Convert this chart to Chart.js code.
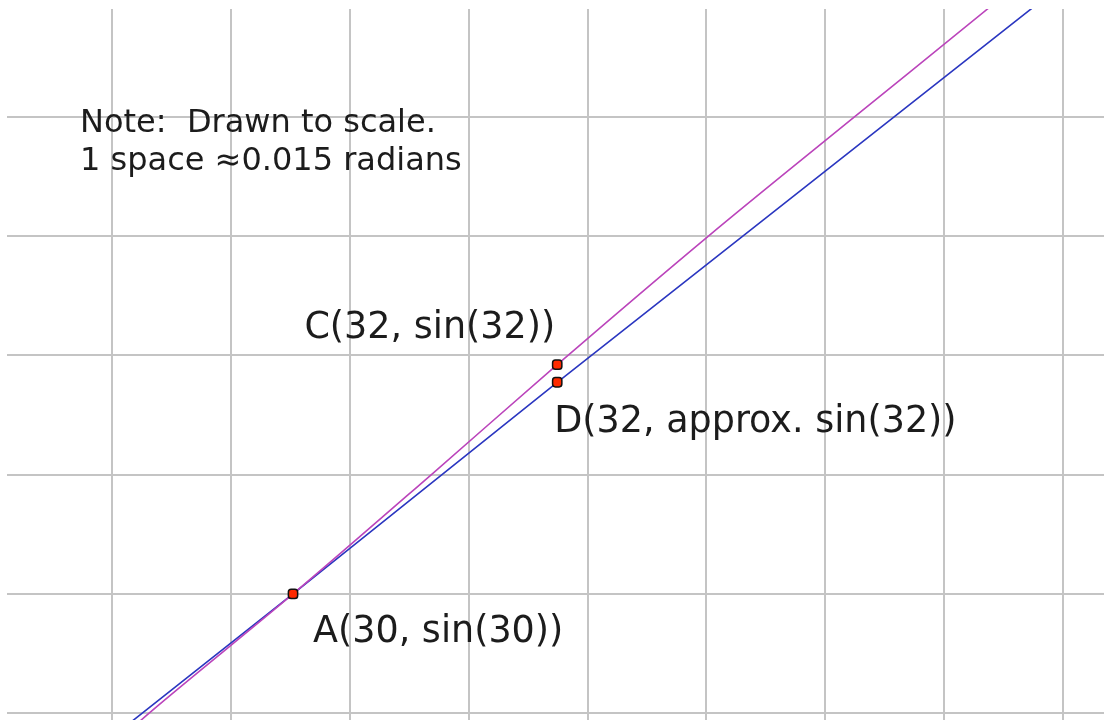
<!DOCTYPE html>
<html>
<head>
<meta charset="utf-8">
<title>sin(x) near 30 degrees</title>
<script src="https://cdn.jsdelivr.net/npm/chart.js@4.4.1/dist/chart.umd.min.js"></script>
<style>
  html, body { margin: 0; padding: 0; background: #fff; }
</style>
</head>
<body>
<canvas id="sinChart" width="1104" height="720"></canvas>
<script>
// angle in degrees, value of sin
var curveX = [28.80, 28.92, 30.00, 31.05, 32.00, 33.14, 34.25, 35.26, 35.40];
var curveY = [0.4828, 0.4846, 0.5000, 0.5156, 0.5299, 0.5466, 0.5622, 0.5763, 0.5783];

// straight-line approximation through A
var approxX = [28.70, 30.00, 32.00, 35.70];
var approxY = [0.4823, 0.5000, 0.5276, 0.5778];

// marked points
var pointNames = ['A(30, sin(30))', 'C(32, sin(32))', 'D(32, approx. sin(32))'];
var pointX = [30, 32, 32];
var pointY = [0.5000, 0.5299, 0.5276];

// grid: one space is 0.9 degrees across, 0.01555 up
var gridX = [28.63, 29.53, 30.43, 31.33, 32.23, 33.13, 34.03, 34.93, 35.83];
var gridY = [0.48445, 0.5000, 0.51555, 0.5311, 0.54665, 0.5622];

var noteLines = ['Note:  Drawn to scale.', '1 space \u22480.015 radians'];

function toXY(xs, ys) {
    return xs.map(function (x, i) { return { x: x, y: ys[i] }; });
}

// text offsets from each marked point (px)
var labelPlace = [
    { dx: 20, dy: 48, align: 'left' },
    { dx: -2, dy: -27, align: 'right' },
    { dx: -3, dy: 50, align: 'left' }
];

var labelPlugin = {
    id: 'labels',
    afterDatasetsDraw: function (chart) {
        var ctx = chart.ctx;
        var xs = chart.scales.x, ys = chart.scales.y;
        ctx.save();
        ctx.fillStyle = '#1c1c1c';
        ctx.textBaseline = 'alphabetic';

        ctx.font = '32px "DejaVu Sans"';
        ctx.textAlign = 'left';
        ctx.fillText(noteLines[0], 80, 132);
        ctx.fillText(noteLines[1], 80, 170);

        ctx.font = '36.5px "DejaVu Sans"';
        pointNames.forEach(function (name, i) {
            var p = labelPlace[i];
            ctx.textAlign = p.align;
            ctx.fillText(name, xs.getPixelForValue(pointX[i]) + p.dx, ys.getPixelForValue(pointY[i]) + p.dy);
        });
        ctx.restore();
    }
};

new Chart(document.getElementById('sinChart'), {
    type: 'scatter',
    data: {
        datasets: [{
            label: 'points',
            data: toXY(pointX, pointY),
            pointStyle: 'rectRounded',
            pointRadius: 5.4,
            backgroundColor: '#ff2a00',
            borderColor: '#111',
            borderWidth: 1.5
        }, {
            label: 'sin',
            type: 'line',
            data: toXY(curveX, curveY),
            borderColor: '#bb44bb',
            borderWidth: 1.6,
            pointRadius: 0,
            cubicInterpolationMode: 'monotone',
            fill: false
        }, {
            label: 'approx',
            type: 'line',
            data: toXY(approxX, approxY),
            borderColor: '#2a36c0',
            borderWidth: 1.6,
            pointRadius: 0,
            fill: false
        }]
    },
    options: {
        responsive: false,
        animation: false,
        layout: { autoPadding: false, padding: { left: 7, top: 9, right: 0, bottom: 0 } },
        plugins: {
            legend: { display: false },
            tooltip: { enabled: false }
        },
        scales: {
            x: {
                type: 'linear',
                min: 27.835,
                max: 36.139,
                border: { display: false },
                grid: { color: '#c4c4c4', lineWidth: 2, drawTicks: false },
                ticks: { display: false },
                afterBuildTicks: function (scale) {
                    scale.ticks = gridX.map(function (v) { return { value: v }; });
                }
            },
            y: {
                type: 'linear',
                min: 0.48357,
                max: 0.57626,
                border: { display: false },
                grid: { color: '#c4c4c4', lineWidth: 2, drawTicks: false },
                ticks: { display: false },
                afterBuildTicks: function (scale) {
                    scale.ticks = gridY.map(function (v) { return { value: v }; });
                }
            }
        }
    },
    plugins: [labelPlugin]
});
</script>
</body>
</html>
